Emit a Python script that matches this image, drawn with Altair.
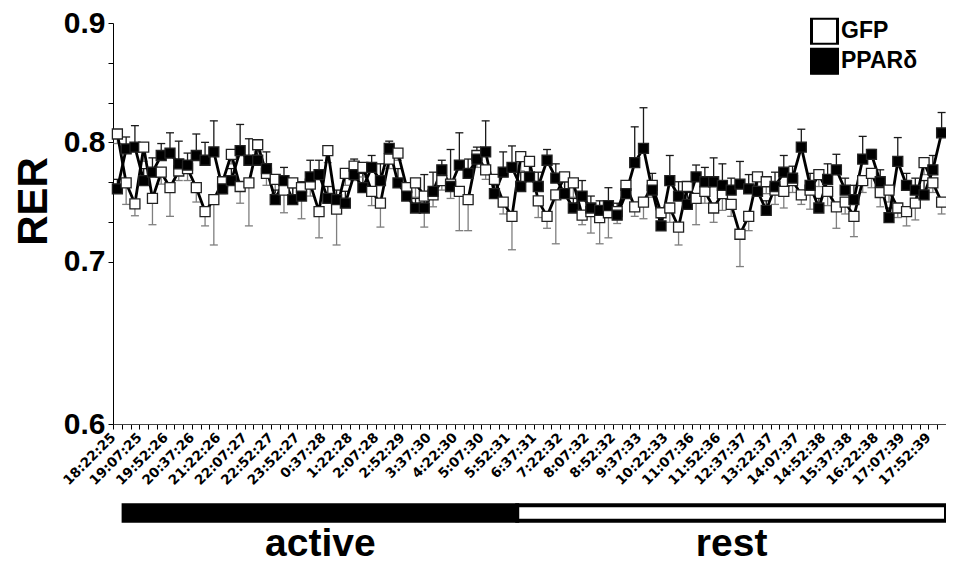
import altair as alt
import pandas as pd

# ---- data ----
time_labels = ["18:22:25", "19:07:25", "19:52:26", "20:37:26", "21:22:26", "22:07:27",
               "22:52:27", "23:52:27", "0:37:28", "1:22:28", "2:07:28", "2:52:29",
               "3:37:30", "4:22:30", "5:07:30", "5:52:31", "6:37:31", "7:22:32",
               "8:07:32", "8:52:32", "9:37:33", "10:22:33", "11:07:36", "11:52:36",
               "12:37:37", "13:22:37", "14:07:37", "14:52:38", "15:37:38", "16:22:38",
               "17:07:39", "17:52:39"]

gfp = [0.807, 0.766, 0.7485, 0.796, 0.753, 0.775, 0.762, 0.776, 0.778, 0.762,
       0.742, 0.752, 0.767, 0.790, 0.763, 0.766, 0.798, 0.774, 0.769, 0.760,
       0.766, 0.762, 0.765, 0.742, 0.793, 0.744, 0.774, 0.780, 0.779, 0.759,
       0.749, 0.786, 0.791, 0.762, 0.766, 0.755, 0.756, 0.768, 0.765, 0.759,
       0.752, 0.789, 0.777, 0.769, 0.750, 0.738, 0.788, 0.784, 0.751, 0.738,
       0.756, 0.771, 0.766, 0.739, 0.742, 0.737, 0.741, 0.742, 0.764, 0.746,
       0.750, 0.764, 0.741, 0.745, 0.729, 0.763, 0.753, 0.759, 0.745, 0.757,
       0.748, 0.723, 0.738, 0.771, 0.767, 0.760, 0.759, 0.768, 0.756, 0.760,
       0.773, 0.759, 0.746, 0.750, 0.738, 0.768, 0.774, 0.758, 0.760, 0.745,
       0.742, 0.749, 0.783, 0.766, 0.750]

ppar = [0.761, 0.7945, 0.796, 0.768, 0.775, 0.789, 0.791, 0.782, 0.781, 0.789,
        0.785, 0.792, 0.761, 0.768, 0.793, 0.785, 0.785, 0.778, 0.752, 0.768,
        0.752, 0.755, 0.771, 0.773, 0.753, 0.752, 0.749, 0.773, 0.762, 0.779,
        0.768, 0.795, 0.766, 0.755, 0.745, 0.745, 0.759, 0.777, 0.763, 0.781,
        0.774, 0.786, 0.792, 0.757, 0.775, 0.779, 0.763, 0.771, 0.763, 0.785,
        0.770, 0.757, 0.745, 0.755, 0.745, 0.743, 0.747, 0.739, 0.757, 0.783,
        0.795, 0.760, 0.730, 0.768, 0.755, 0.748, 0.771, 0.767, 0.767, 0.764,
        0.760, 0.765, 0.761, 0.759, 0.743, 0.763, 0.775, 0.770, 0.796, 0.764,
        0.745, 0.769, 0.777, 0.760, 0.752, 0.786, 0.790, 0.767, 0.737, 0.784,
        0.764, 0.760, 0.756, 0.777, 0.808]

gfp_sem = [0.008, 0.018, 0.010, 0.012, 0.022, 0.010, 0.024, 0.008, 0.010, 0.012,
           0.012, 0.038, 0.010, 0.008, 0.014, 0.036, 0.006, 0.010, 0.012, 0.019,
           0.012, 0.026, 0.010, 0.022, 0.010, 0.030, 0.010, 0.012, 0.008, 0.012,
           0.020, 0.008, 0.006, 0.010, 0.012, 0.026, 0.010, 0.008, 0.012, 0.033,
           0.026, 0.010, 0.008, 0.012, 0.010, 0.028, 0.012, 0.010, 0.014, 0.010,
           0.041, 0.010, 0.012, 0.008, 0.018, 0.022, 0.021, 0.010, 0.006, 0.008,
           0.014, 0.010, 0.010, 0.012, 0.015, 0.010, 0.022, 0.010, 0.012, 0.014,
           0.010, 0.026, 0.012, 0.008, 0.010, 0.012, 0.014, 0.010, 0.008, 0.016,
           0.010, 0.012, 0.018, 0.010, 0.017, 0.010, 0.012, 0.012, 0.010, 0.008,
           0.012, 0.014, 0.010, 0.008, 0.010]

ppar_sem = [0.008, 0.010, 0.018, 0.010, 0.012, 0.010, 0.017, 0.019, 0.010, 0.018,
            0.015, 0.026, 0.008, 0.010, 0.022, 0.018, 0.010, 0.014, 0.008, 0.011,
            0.010, 0.012, 0.014, 0.012, 0.010, 0.008, 0.010, 0.013, 0.012, 0.010,
            0.014, 0.006, 0.012, 0.010, 0.008, 0.028, 0.016, 0.008, 0.031, 0.027,
            0.012, 0.010, 0.026, 0.012, 0.017, 0.018, 0.012, 0.010, 0.012, 0.009,
            0.012, 0.010, 0.008, 0.013, 0.010, 0.008, 0.015, 0.010, 0.008, 0.030,
            0.034, 0.014, 0.008, 0.021, 0.012, 0.010, 0.010, 0.012, 0.020, 0.018,
            0.010, 0.019, 0.012, 0.010, 0.008, 0.012, 0.014, 0.010, 0.015, 0.010,
            0.008, 0.013, 0.013, 0.010, 0.012, 0.019, 0.004, 0.010, 0.008, 0.020,
            0.010, 0.010, 0.012, 0.012, 0.017]

series_names = ["GFP", "PPARδ"]
phase_names = ["active", "rest"]
phase_start = [0.71, 45.6]
phase_end = [45.6, 94.5]

# ---- tables ----
n = len(gfp)
rows = []
for i in range(n):
    rows.append({"idx": i, "series": "GFP", "value": gfp[i], "end": gfp[i] - gfp_sem[i]})
    rows.append({"idx": i, "series": "PPARδ", "value": ppar[i], "end": ppar[i] + ppar_sem[i]})
df = pd.DataFrame(rows)
phases = pd.DataFrame({"phase": phase_names, "start": phase_start, "end": phase_end})

W, H = 833, 401
x_dom = [-0.5, n - 0.5]
xscale = alt.Scale(domain=x_dom, nice=False, zero=False)
yscale = alt.Scale(domain=[0.6, 0.7, 0.9], range=[H, 238.7, 0], nice=False, zero=False)

label_arr = "[" + ",".join("'" + t + "'" for t in time_labels) + "]"
x_axis = alt.Axis(
    values=[i - 0.5 for i in range(n + 1)],
    labelExpr=f"((datum.value + 0.5) % 3 == 0) ? {label_arr}[(datum.value + 0.5) / 3] : ''",
    labelAngle=315, title=None,
)
y_axis = alt.Axis(
    values=[0.6, 0.7, 0.7333333, 0.7666667, 0.8, 0.8333333, 0.8666667, 0.9],
    labelExpr="abs(datum.value * 10 - round(datum.value * 10)) < 0.001 ? format(datum.value, '.1f') : ''",
    title="RER",
)


def XE(field):
    return alt.X(field, type="quantitative", scale=xscale, axis=x_axis)


def YE(field):
    return alt.Y(field, type="quantitative", scale=yscale, axis=y_axis)


err_color = alt.Color("series:N", scale=alt.Scale(domain=series_names, range=["#7f7f7f", "#1a1a1a"]), legend=None)

base = alt.Chart(df)

err_rules = base.mark_rule(strokeWidth=1.3).encode(
    x=XE("idx"), y=YE("value"), y2="end:Q", color=err_color)
err_caps = base.mark_tick(orient="horizontal", size=8, thickness=1.3, opacity=1).encode(
    x=XE("idx"), y=YE("end"), color=err_color)
lines = base.mark_line(color="black", strokeWidth=2.8).encode(
    x=XE("idx"), y=YE("value"), detail="series:N")
points = base.mark_square(size=100, stroke="#222", strokeWidth=1.3, opacity=1).encode(
    x=XE("idx"), y=YE("value"),
    fill=alt.Fill("series:N", scale=alt.Scale(domain=series_names, range=["white", "black"]),
                  legend=alt.Legend(orient="none", legendX=697, legendY=-5.3, title=None,
                                    symbolType="square", symbolSize=676, symbolStrokeWidth=3,
                                    symbolStrokeColor="black", labelFont="Liberation Sans",
                                    labelFontSize=23, labelFontWeight="bold", labelColor="black",
                                    labelOffset=2, clipHeight=27, rowPadding=3, padding=0)),
)

phase_rects = alt.Chart(phases).mark_rect(stroke="black", strokeWidth=4).encode(
    x=XE("start"), x2="end:Q",
    y=alt.value(482.3), y2=alt.value(497.7),
    fill=alt.Fill("phase:N", scale=alt.Scale(domain=phase_names, range=["black", "white"]), legend=None),
)
phase_text = alt.Chart(phases).transform_calculate(mid="(datum.start + datum.end) / 2").mark_text(
    font="Liberation Sans", fontWeight="bold", fontSize=39, align="center", baseline="alphabetic",
    color="black",
).encode(x=XE("mid"), y=alt.value(533), text="phase:N")

chart = alt.layer(err_rules, err_caps, lines, points, phase_rects, phase_text).resolve_scale(
    fill="independent"
).properties(
    width=W, height=H,
    autosize=alt.AutoSizeParams(type="none"),
    padding={"left": 105, "top": 15, "right": 0, "bottom": 141},
    background="white",
).configure_view(stroke=None).configure_axisX(
    labelAlign="right", labelBaseline="top",
    labelFont="DejaVu Sans", labelFontWeight="bold", labelFontSize=13.5, labelColor="black",
    labelPadding=1, labelOffset=-5, labelOverlap=False, labelBound=False, labelFlush=False,
    tickSize=5, tickColor="black", domainColor="#444", grid=False,
).configure_axisY(
    labelFont="Liberation Sans", labelFontWeight="bold", labelFontSize=30, labelColor="black",
    labelPadding=3, tickSize=5, tickColor="black", domainColor="black", grid=False,
    titleFont="Liberation Sans", titleFontWeight="bold", titleFontSize=42,
    titleColor="black", titleAngle=270, titleAlign="center", titleBaseline="alphabetic",
    titleX=-66.5, titleY=178,
)

chart.save("out.html", embed_options={"renderer": "svg", "actions": False})
